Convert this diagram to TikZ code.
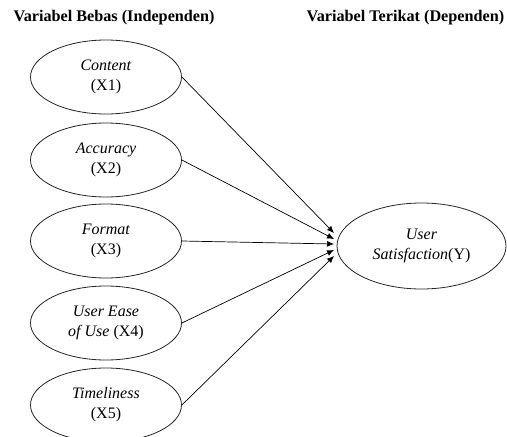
\documentclass[tikz,border=0pt]{standalone}
\usepackage{fontspec}
\setmainfont{Liberation Serif}
\usepackage{tikz}
\usetikzlibrary{shapes.geometric,arrows.meta}

\begin{document}
\begin{tikzpicture}[x=1pt, y=-1pt,
        every node/.style={font=\fontsize{16}{20}\selectfont},
        heading/.style={anchor=west, font=\fontsize{16.2}{20}\selectfont\bfseries},
        varnode/.style={ellipse, draw=black!85, line width=0.8pt, inner sep=0pt,
            minimum width=151pt, minimum height=74pt, align=center},
        arrow/.style={-{Latex[length=7pt,width=6pt]}, line width=0.7pt}]
        \useasboundingbox (0,0) rectangle (507,437);

        % Column headings
        \node[heading] (hbebas) at (10,18) {Variabel Bebas (Independen)};
        \node[heading] (hterikat) at (303,18) {Variabel Terikat (Dependen)};

        % Independent variables
        \node[varnode] (x1) at (106,77) {\textit{Content}\\(X1)};
        \node[varnode] (x2) at (106,160) {\textit{Accuracy}\\(X2)};
        \node[varnode] (x3) at (106,241) {\textit{Format}\\(X3)};
        \node[varnode] (x4) at (106,323) {\textit{User Ease}\\\textit{of Use} (X4)};
        \node[varnode] (x5) at (106,405) {\textit{Timeliness}\\(X5)};

        % Dependent variable
        \node[varnode, minimum width=169pt, minimum height=86pt] (y) at (421.5,246)
            {\textit{User}\\\textit{Satisfaction}(Y)};

        % Arrow tips meet at the left of the dependent variable
        \coordinate (t1) at (334,233);
        \coordinate (t2) at (334,239);
        \coordinate (t3) at (334,244);
        \coordinate (t4) at (334,250);
        \coordinate (t5) at (334,256);

        % Paths
        \draw[arrow] (x1.east) -- (t1);
        \draw[arrow] (x2.east) -- (t2);
        \draw[arrow] (x3.east) -- (t3);
        \draw[arrow] (x4.east) -- (t4);
        \draw[arrow] (x5.east) -- (t5);
    \end{tikzpicture}
\end{document}
